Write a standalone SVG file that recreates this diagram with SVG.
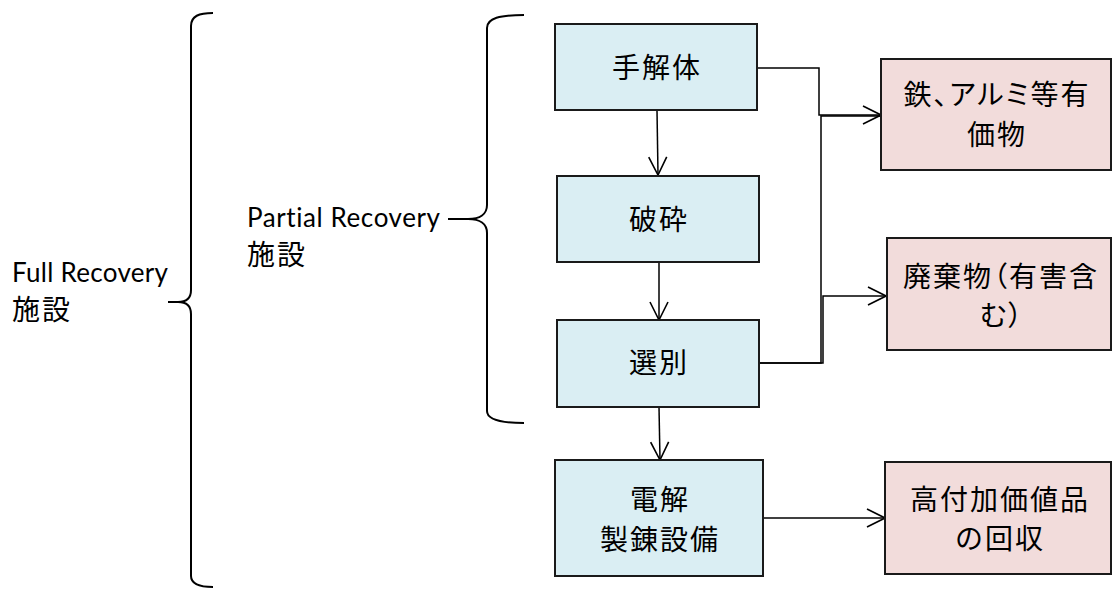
<svg xmlns="http://www.w3.org/2000/svg" width="1113" height="592" viewBox="0 0 1113 592">
<style>
.blue{fill:#DAEEF3;stroke:#1a1a1a;stroke-width:2}
.pink{fill:#F2DCDB;stroke:#1a1a1a;stroke-width:2}
.t{font-family:"Noto Sans CJK JP","Noto Sans",sans-serif;font-size:28px;fill:#000;text-anchor:middle;letter-spacing:2px}
.m{font-feature-settings:"palt"}
.lab{font-family:"Noto Sans CJK JP",sans-serif;font-size:28px;fill:#000;letter-spacing:2px}
.lat{font-family:Lato,"Liberation Sans",sans-serif;font-size:26px;fill:#000;font-variant-ligatures:none;font-feature-settings:"liga" 0,"clig" 0}
.c{fill:none;stroke:#000;stroke-width:1.5}
.br{fill:none;stroke:#000;stroke-width:2}
</style>
<defs>
<marker id="ah" viewBox="0 0 20 20" markerWidth="20" markerHeight="20" refX="19" refY="10" orient="auto" markerUnits="userSpaceOnUse">
<path d="M1,1 L19,10 L1,19" fill="none" stroke="#000" stroke-width="1.6"/>
</marker>
</defs>
<rect width="1113" height="592" fill="#fff"/>

<g id="brace-full">
<path class="br" d="M213,13 C199,13 191,16 191,26 L191,290 C191,298 186,302 178,302 L168,302 M178,302 C186,302 191,306 191,314 L191,576 C191,584 199,587 213,587"/>
</g>
<g id="brace-partial">
<path class="br" d="M524,15 C500,15 487,18 487,28 L487,205 C487,214 480,219 468,219 L448,219 M468,219 C480,219 487,224 487,233 L487,411 C487,419 500,423 524,423"/>
</g>

<g id="label-full">
<text class="lat" x="12" y="282" textLength="156" lengthAdjust="spacing">Full Recovery</text>
<text class="lab" x="12" y="320">施設</text>
</g>
<g id="label-partial">
<text class="lat" x="247" y="227" textLength="193" lengthAdjust="spacing">Partial Recovery</text>
<text class="lab" x="247" y="265">施設</text>
</g>

<g id="connectors">
<path class="c" d="M657,110 L658,175" marker-end="url(#ah)"/>
<path class="c" d="M659,262 L659,320" marker-end="url(#ah)"/>
<path class="c" d="M659,407 L660,460" marker-end="url(#ah)"/>
<path class="c" d="M757,68 L819,68 L819,115 L881,115" marker-end="url(#ah)"/>
<path class="c" d="M759,363 L821,363 L821,116 L881,116"/>
<path class="c" d="M759,363 L823,363 L823,296 L886,296" marker-end="url(#ah)"/>
<path class="c" d="M763,518 L885,518" marker-end="url(#ah)"/>
</g>

<g id="node-shukaitai">
<rect class="blue" x="555" y="24" width="202" height="86"/>
<text class="t" x="657" y="78">手解体</text>
</g>
<g id="node-hasai">
<rect class="blue" x="557" y="176" width="202" height="86"/>
<text class="t" x="659" y="230">破砕</text>
</g>
<g id="node-senbetsu">
<rect class="blue" x="557" y="320" width="202" height="87"/>
<text class="t" x="659" y="373">選別</text>
</g>
<g id="node-denkai">
<rect class="blue" x="555" y="460" width="208" height="116"/>
<text class="t" x="660" y="510">電解</text>
<text class="t" x="660" y="550">製錬設備</text>
</g>
<g id="node-yukabutsu">
<rect class="pink" x="881" y="59" width="230" height="111"/>
<text class="t m" x="997" y="105">鉄、アルミ等有</text>
<text class="t" x="997" y="145">価物</text>
</g>
<g id="node-haikibutsu">
<rect class="pink" x="887" y="238" width="224" height="112"/>
<text class="t m" x="1001" y="287">廃棄物（有害含</text>
<text class="t m" x="1002" y="326">む）</text>
</g>
<g id="node-kofuka">
<rect class="pink" x="885" y="462" width="226" height="112"/>
<text class="t" x="1000" y="510">高付加価値品</text>
<text class="t" x="1000" y="549">の回収</text>
</g>
</svg>
